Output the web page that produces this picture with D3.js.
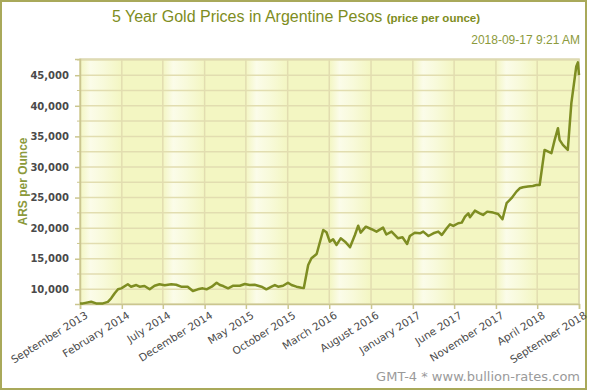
<!DOCTYPE html>
<html>
<head>
<meta charset="utf-8">
<script src="https://cdn.jsdelivr.net/npm/d3@7"></script>
<style>
  body { margin: 0; background: #fff; }
  svg { display: block; }
</style>
</head>
<body>
<svg id="chart" width="589" height="392"></svg>
<script>
'use strict';

// gold price in ARS
const price_dates = [
  '2013-09-17', '2013-09-28', '2013-10-28', '2013-11-15', '2013-12-10', '2013-12-28',
  '2014-01-09', '2014-01-22', '2014-02-03', '2014-02-15', '2014-03-11', '2014-03-23',
  '2014-04-11', '2014-04-23', '2014-05-11', '2014-05-30', '2014-06-17', '2014-07-05',
  '2014-07-24', '2014-08-17', '2014-09-04', '2014-09-22', '2014-10-16', '2014-11-04',
  '2014-11-22', '2014-12-10', '2014-12-24', '2015-01-12', '2015-01-30', '2015-02-11',
  '2015-02-23', '2015-03-13', '2015-04-01', '2015-04-25', '2015-05-13', '2015-05-31',
  '2015-06-18', '2015-07-13', '2015-07-31', '2015-08-19', '2015-08-31', '2015-09-12',
  '2015-09-30', '2015-10-18', '2015-10-31', '2015-11-18', '2015-12-06', '2015-12-15',
  '2015-12-31', '2016-01-12', '2016-01-31', '2016-02-24', '2016-03-07', '2016-03-19',
  '2016-03-31', '2016-04-13', '2016-04-28', '2016-05-14', '2016-06-01', '2016-06-19',
  '2016-07-01', '2016-07-10', '2016-07-29', '2016-08-19', '2016-09-06', '2016-09-30',
  '2016-10-12', '2016-10-31', '2016-11-24', '2016-12-10', '2016-12-27', '2017-01-06',
  '2017-01-24', '2017-02-12', '2017-02-24', '2017-03-15', '2017-04-02', '2017-04-20',
  '2017-05-03', '2017-05-21', '2017-06-02', '2017-06-14', '2017-07-02', '2017-07-15',
  '2017-07-27', '2017-08-08', '2017-08-14', '2017-09-01', '2017-09-19', '2017-10-01',
  '2017-10-16', '2017-11-07', '2017-11-25', '2017-12-11', '2017-12-26', '2018-01-13',
  '2018-01-31', '2018-02-12', '2018-02-24', '2018-03-14', '2018-04-01', '2018-04-14',
  '2018-04-26', '2018-05-14', '2018-06-08', '2018-06-20', '2018-07-02', '2018-07-08',
  '2018-07-20', '2018-08-07', '2018-08-20', '2018-09-07', '2018-09-13', '2018-09-17'
];
const price_values = [
  7700, 7700, 7970, 7700, 7700, 7950,
  8530, 9350, 10000, 10160, 10820, 10430,
  10700, 10430, 10540, 10000, 10590, 10820,
  10650, 10820, 10750, 10430, 10430, 9720,
  10000, 10160, 10000, 10430, 11080, 10700,
  10540, 10160, 10590, 10590, 10870, 10700,
  10750, 10430, 10000, 10430, 10700, 10430,
  10590, 11080, 10700, 10430, 10260, 10200,
  13980, 15070, 15780, 19700, 19330, 17790,
  18180, 17250, 18340, 17790, 16870, 18880,
  20400, 19260, 20240, 19820, 19430, 20080,
  18960, 19430, 18340, 18500, 17410, 18720,
  19250, 19160, 19430, 18720, 19160, 19430,
  18880, 19980, 20630, 20360, 20800, 20900,
  21880, 22430, 21780, 22860, 22430, 22160,
  22700, 22540, 22320, 21450, 24070, 24890,
  25970, 26520, 26690, 26790, 26900, 27060,
  27060, 32790, 32250, 34430, 36340, 34430,
  33610, 32790, 40430, 46420, 47100, 45000
];

const x_tick_dates = [
  '2013-09-17', '2014-02-17', '2014-07-17', '2014-12-17', '2015-05-17', '2015-10-17',
  '2016-03-17', '2016-08-17', '2017-01-17', '2017-06-17', '2017-11-17', '2018-04-17',
  '2018-09-17'
];
const y_major_ticks = [10000, 15000, 20000, 25000, 30000, 35000, 40000, 45000];
const y_minor_ticks = [12500, 17500, 22500, 27500, 32500, 37500, 42500, 47500];

const parse_date = d3.timeParse('%Y-%m-%d');
const data = price_dates.map((d, i) => ({ date: parse_date(d), value: price_values[i] }));
const tick_dates = x_tick_dates.map(parse_date);

const olive = '#7e8d22';
const plot_left = 80;
const plot_right = 579;
const plot_top = 59;
const plot_bottom = 304;

const svg = d3.select('#chart');

const x = d3.scaleTime()
  .domain([parse_date('2013-09-17'), parse_date('2018-09-17')])
  .range([plot_left, plot_right]);
const y = d3.scaleLinear()
  .domain([7600, 47650])
  .range([plot_bottom, plot_top]);

// BACKGROUND
const defs = svg.append('defs');
const band = defs.append('linearGradient')
  .attr('id', 'band')
  .attr('x1', 0).attr('x2', 1).attr('y1', 0).attr('y2', 0);
band.append('stop').attr('offset', 0).attr('stop-color', '#f3f6c2');
band.append('stop').attr('offset', 0.25).attr('stop-color', '#fbfce9');
band.append('stop').attr('offset', 0.55).attr('stop-color', '#f8fadb');
band.append('stop').attr('offset', 1).attr('stop-color', '#f3f6c2');

svg.append('rect')
  .attr('x', 1).attr('y', 1)
  .attr('width', 585).attr('height', 388)
  .attr('fill', '#fff')
  .attr('stroke', '#a9a95a')
  .attr('stroke-width', 2);

svg.append('rect')
  .attr('x', plot_left).attr('y', plot_top)
  .attr('width', plot_right - plot_left).attr('height', plot_bottom - plot_top)
  .attr('fill', '#f3f6c2');

svg.append('g')
  .selectAll('rect')
  .data(d3.pairs(tick_dates).filter((d, i) => i % 2 === 0))
  .join('rect')
  .attr('x', d => x(d[0]))
  .attr('y', plot_top)
  .attr('width', d => x(d[1]) - x(d[0]))
  .attr('height', plot_bottom - plot_top)
  .attr('fill', 'url(#band)');

// GRID
const grid_color = '#e2ddb0';
svg.append('g')
  .selectAll('line')
  .data(y_major_ticks.concat(y_minor_ticks))
  .join('line')
  .attr('x1', plot_left).attr('x2', plot_right)
  .attr('y1', d => y(d)).attr('y2', d => y(d))
  .attr('stroke', grid_color)
  .attr('stroke-width', 1.5);

svg.append('g')
  .selectAll('line')
  .data(tick_dates)
  .join('line')
  .attr('x1', d => x(d)).attr('x2', d => x(d))
  .attr('y1', plot_top).attr('y2', plot_bottom)
  .attr('stroke', grid_color)
  .attr('stroke-width', 1.5);

svg.append('rect')
  .attr('x', plot_left).attr('y', plot_top)
  .attr('width', plot_right - plot_left).attr('height', plot_bottom - plot_top)
  .attr('fill', 'none')
  .attr('stroke', '#dcd8b0')
  .attr('stroke-width', 1.5);

// AXES
const axis_color = '#cbc68f';
const y_axis = svg.append('g')
  .attr('transform', `translate(${plot_left},0)`)
  .call(d3.axisLeft(y)
    .tickValues(y_major_ticks)
    .tickSize(5)
    .tickPadding(6)
    .tickFormat(d3.format(',')));
y_axis.append('g')
  .selectAll('line')
  .data(y_minor_ticks)
  .join('line')
  .attr('x1', -3).attr('x2', 0)
  .attr('y1', d => y(d)).attr('y2', d => y(d))
  .attr('stroke', axis_color);

const x_axis = svg.append('g')
  .attr('transform', `translate(0,${plot_bottom})`)
  .call(d3.axisBottom(x)
    .tickValues(tick_dates)
    .tickSize(5)
    .tickFormat(d3.timeFormat('%B %Y')));

[y_axis, x_axis].forEach(axis => {
  axis.select('.domain').attr('stroke', axis_color).attr('stroke-width', 1.5);
  axis.selectAll('.tick line').attr('stroke', axis_color).attr('stroke-width', 1.5);
});

y_axis.selectAll('.tick text')
  .attr('font-family', 'DejaVu Sans, sans-serif')
  .attr('font-size', 10)
  .attr('font-weight', 'bold')
  .attr('fill', '#4a4a4a');

x_axis.selectAll('.tick text')
  .attr('font-family', 'DejaVu Sans, sans-serif')
  .attr('font-size', 10.5)
  .attr('fill', '#4a4a4a')
  .attr('text-anchor', 'end')
  .attr('x', 0)
  .attr('y', 8)
  .attr('dy', '0.71em')
  .attr('transform', 'rotate(-32)');

// LINE
svg.append('path')
  .datum(data)
  .attr('fill', 'none')
  .attr('stroke', olive)
  .attr('stroke-width', 2.5)
  .attr('stroke-linejoin', 'round')
  .attr('d', d3.line()
    .x(d => x(d.date))
    .y(d => y(d.value)));

// TEXTS
const title = svg.append('text')
  .attr('x', 296)
  .attr('y', 22)
  .attr('text-anchor', 'middle')
  .attr('font-family', 'Liberation Sans, Arial, sans-serif')
  .attr('fill', olive);
title.append('tspan')
  .attr('font-size', 16)
  .text('5 Year Gold Prices in Argentine Pesos ');
title.append('tspan')
  .attr('font-size', 11.5)
  .attr('font-weight', 'bold')
  .text('(price per ounce)');

svg.append('text')
  .attr('x', 580)
  .attr('y', 44)
  .attr('text-anchor', 'end')
  .attr('font-family', 'Liberation Sans, Arial, sans-serif')
  .attr('font-size', 12)
  .attr('fill', '#8c9a3c')
  .text('2018-09-17 9:21 AM');

svg.append('text')
  .attr('transform', `translate(27,${(plot_top + plot_bottom) / 2}) rotate(-90)`)
  .attr('text-anchor', 'middle')
  .attr('font-family', 'Liberation Sans, Arial, sans-serif')
  .attr('font-size', 12)
  .attr('font-weight', 'bold')
  .attr('fill', '#8c9a3c')
  .text('ARS per Ounce');

svg.append('text')
  .attr('x', 580)
  .attr('y', 381)
  .attr('text-anchor', 'end')
  .attr('font-family', 'DejaVu Sans, sans-serif')
  .attr('font-size', 13)
  .attr('fill', '#9a9a9a')
  .text('GMT-4 * www.bullion-rates.com');
</script>
</body>
</html>
